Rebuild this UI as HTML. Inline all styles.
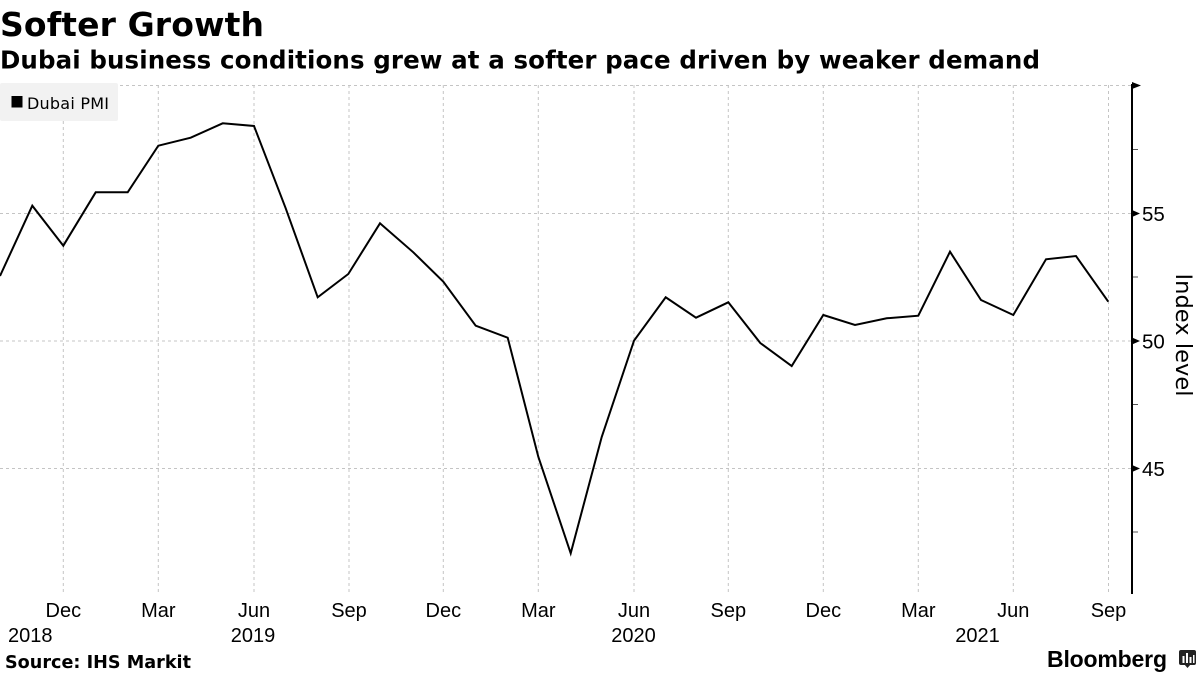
<!DOCTYPE html>
<html>
<head>
<meta charset="utf-8">
<style>
  html, body { margin: 0; padding: 0; background: #ffffff; }
  svg { display: block; }
</style>
</head>
<body>
<svg width="1200" height="675" viewBox="0 0 1200 675" xmlns="http://www.w3.org/2000/svg">
  <rect x="0" y="0" width="1200" height="675" fill="#ffffff"/>

  <!-- Title & subtitle -->
  <text x="0" y="36" font-family="'DejaVu Sans', 'Liberation Sans', sans-serif" font-weight="bold" font-size="33" fill="#000" textLength="264">Softer Growth</text>
  <text x="0" y="68.5" font-family="'DejaVu Sans', 'Liberation Sans', sans-serif" font-weight="bold" font-size="24.5" fill="#000" textLength="1040">Dubai business conditions grew at a softer pace driven by weaker demand</text>

  <!-- Gridlines -->
  <g stroke="#c4c4c4" stroke-width="1" stroke-dasharray="3,3" fill="none">
    <line x1="0" y1="85.5" x2="1131" y2="85.5"/>
    <line x1="0" y1="213.5" x2="1131" y2="213.5"/>
    <line x1="0" y1="341" x2="1131" y2="341"/>
    <line x1="0" y1="468.5" x2="1131" y2="468.5"/>

    <line x1="63.3" y1="85" x2="63.3" y2="593"/>
    <line x1="158.3" y1="85" x2="158.3" y2="593"/>
    <line x1="254" y1="85" x2="254" y2="593"/>
    <line x1="349" y1="85" x2="349" y2="593"/>
    <line x1="443.3" y1="85" x2="443.3" y2="593"/>
    <line x1="538.3" y1="85" x2="538.3" y2="593"/>
    <line x1="634" y1="85" x2="634" y2="593"/>
    <line x1="728.3" y1="85" x2="728.3" y2="593"/>
    <line x1="823.3" y1="85" x2="823.3" y2="593"/>
    <line x1="918.3" y1="85" x2="918.3" y2="593"/>
    <line x1="1013.3" y1="85" x2="1013.3" y2="593"/>
    <line x1="1108.5" y1="85" x2="1108.5" y2="593"/>
  </g>

  <!-- Legend -->
  <rect x="0" y="83" width="118" height="38" rx="2" fill="#f2f2f2"/>
  <rect x="11.5" y="96" width="11" height="11.5" fill="#000"/>
  <text x="27" y="109" font-family="'DejaVu Sans', 'Liberation Sans', sans-serif" font-size="16" fill="#000" textLength="82">Dubai PMI</text>

  <!-- Series -->
  <polyline fill="none" stroke="#000" stroke-width="2" stroke-linejoin="miter"
    points="0,276 32.3,205.7 63.3,245.7 95.7,192.3 127.7,192.3 158.3,145.7 190.7,137.7 222.7,123.3 254,126 285.7,208.3 317.7,297.3 348.3,274 380,223.3 413.3,252.3 443.3,281.7 475.7,325.7 507.7,337.7 538.3,456.7 570.7,553.3 601.7,437 634,340.7 665.7,297.3 696,317.7 728.3,302.3 760.3,343 791.7,366 823.3,315 855,325 886.7,318.3 918.3,315.7 950,251.7 981,300 1013.3,315 1046,259.3 1076,256 1108.3,301.7"/>

  <!-- Right axis -->
  <line x1="1132" y1="84" x2="1132" y2="594" stroke="#000" stroke-width="2"/>
  <g fill="#000">
    <polygon points="1132,82 1141,85.5 1132,89"/>
    <polygon points="1132,210 1140,213.5 1132,217"/>
    <polygon points="1132,337.5 1140,341 1132,344.5"/>
    <polygon points="1132,465 1140,468.5 1132,472"/>
  </g>
  <g stroke="#555" stroke-width="1">
    <line x1="1133" y1="149.5" x2="1138" y2="149.5"/>
    <line x1="1133" y1="277" x2="1138" y2="277"/>
    <line x1="1133" y1="404.5" x2="1138" y2="404.5"/>
    <line x1="1133" y1="532" x2="1138" y2="532"/>
  </g>

  <!-- Y tick labels -->
  <g font-family="'Liberation Sans', sans-serif" font-size="20.5" fill="#000">
    <text x="1142" y="221">55</text>
    <text x="1142" y="348.5">50</text>
    <text x="1142" y="476">45</text>
  </g>

  <!-- Y axis title -->
  <text transform="translate(1176,335) rotate(90)" text-anchor="middle" font-family="'DejaVu Sans', 'Liberation Sans', sans-serif" font-size="22.5" fill="#000" textLength="123">Index level</text>

  <!-- X tick labels -->
  <g font-family="'Liberation Sans', sans-serif" font-size="20" fill="#000" text-anchor="middle">
    <text x="63.3" y="617">Dec</text>
    <text x="158.3" y="617">Mar</text>
    <text x="254" y="617">Jun</text>
    <text x="349" y="617">Sep</text>
    <text x="443.3" y="617">Dec</text>
    <text x="538.3" y="617">Mar</text>
    <text x="634" y="617">Jun</text>
    <text x="728.3" y="617">Sep</text>
    <text x="823.3" y="617">Dec</text>
    <text x="918.3" y="617">Mar</text>
    <text x="1013.3" y="617">Jun</text>
    <text x="1108.5" y="617">Sep</text>

    <text x="30.3" y="642">2018</text>
    <text x="253" y="642">2019</text>
    <text x="633.5" y="642">2020</text>
    <text x="977.5" y="642">2021</text>
  </g>

  <!-- Source -->
  <text x="5" y="668" font-family="'DejaVu Sans', 'Liberation Sans', sans-serif" font-weight="bold" font-size="17.6" fill="#000" textLength="186">Source: IHS Markit</text>

  <!-- Bloomberg logo -->
  <text x="1047" y="667" font-family="'Liberation Sans', sans-serif" font-weight="bold" font-size="23" fill="#000" textLength="120">Bloomberg</text>
  <g>
    <rect x="1179" y="650" width="17" height="15" rx="2" fill="#222"/>
    <polygon points="1184,664 1191,664 1187.5,668" fill="#222"/>
    <rect x="1182.5" y="656" width="2" height="7" fill="#fff"/>
    <rect x="1186" y="653" width="2" height="10" fill="#fff"/>
    <rect x="1189.5" y="657" width="2" height="6" fill="#fff"/>
    <rect x="1193" y="655" width="1.5" height="8" fill="#fff"/>
  </g>
</svg>
</body>
</html>
